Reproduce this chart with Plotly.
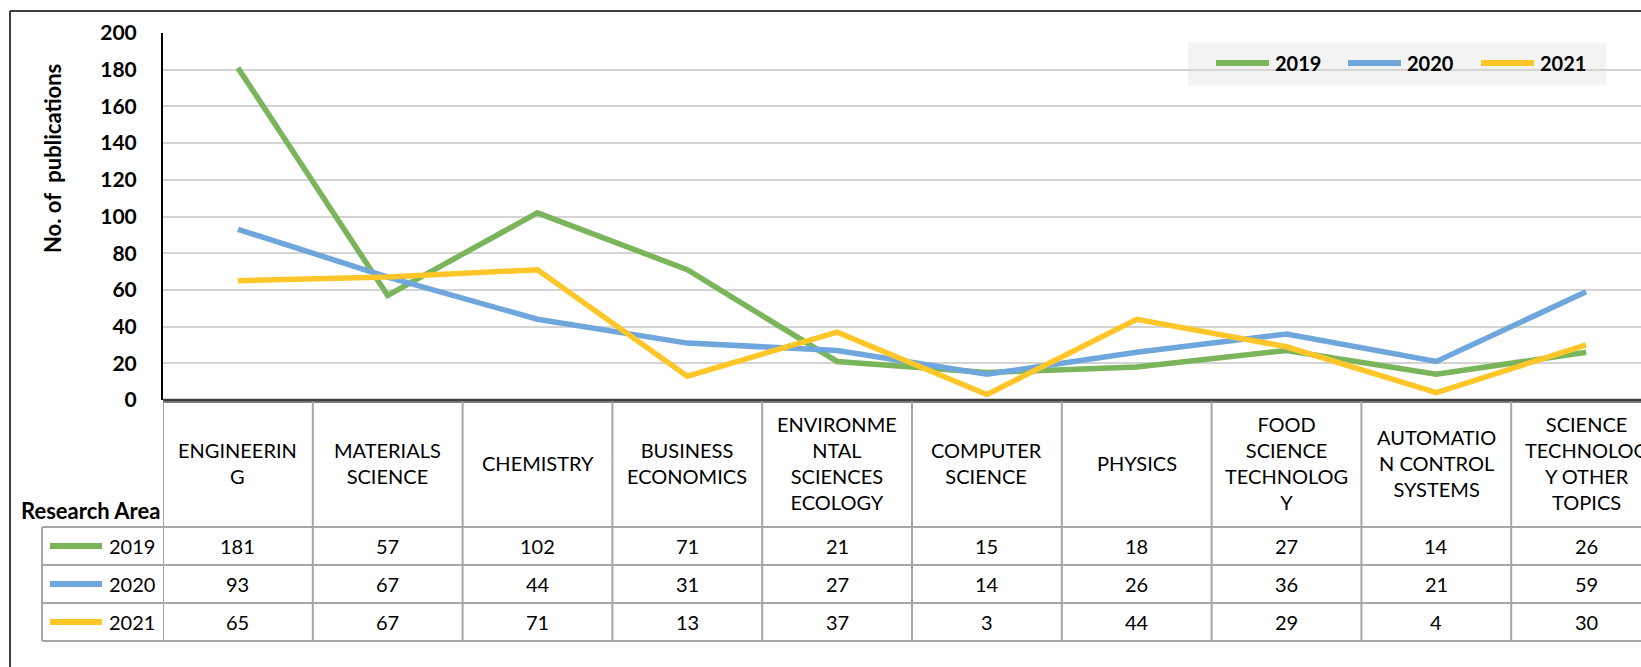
import plotly.graph_objects as go

# ---------------- data ----------------
categories = ["ENGINEERING", "MATERIALS SCIENCE", "CHEMISTRY", "BUSINESS ECONOMICS",
              "ENVIRONMENTAL SCIENCES ECOLOGY", "COMPUTER SCIENCE", "PHYSICS",
              "FOOD SCIENCE TECHNOLOGY", "AUTOMATION CONTROL SYSTEMS",
              "SCIENCE TECHNOLOGY OTHER TOPICS"]
header_labels = ["ENGINEERIN<br>G", "MATERIALS<br>SCIENCE", "CHEMISTRY", "BUSINESS<br>ECONOMICS",
                 "ENVIRONME<br>NTAL<br>SCIENCES<br>ECOLOGY", "COMPUTER<br>SCIENCE", "PHYSICS",
                 "FOOD<br>SCIENCE<br>TECHNOLOG<br>Y", "AUTOMATIO<br>N CONTROL<br>SYSTEMS",
                 "SCIENCE<br>TECHNOLOG<br>Y OTHER<br>TOPICS"]
series_names = ["2019", "2020", "2021"]
values_2019 = [181, 57, 102, 71, 21, 15, 18, 27, 14, 26]
values_2020 = [93, 67, 44, 31, 27, 14, 26, 36, 21, 59]
values_2021 = [65, 67, 71, 13, 37, 3, 44, 29, 4, 30]
y_ticks = [0, 20, 40, 60, 80, 100, 120, 140, 160, 180, 200]

colors = ["#7ab55b", "#6fa7dc", "#ffc629"]
series_values = [values_2019, values_2020, values_2021]

# ---------------- geometry (pixels) ----------------
W, H = 1641, 667
L, R, T, B = 163, 1641, 33, 400
PW, PH = R - L, B - T
SLOT = 149.8
x_hi = -0.5 + PW / SLOT


def px(x):
    return (x - L) / PW


def py(y):
    return (B - y) / PH


FONT = "Lato"
fig = go.Figure()
for name, vals, c in zip(series_names, series_values, colors):
    fig.add_trace(go.Scatter(x=list(range(len(categories))), y=vals, mode="lines", name=name,
                             line=dict(color=c, width=5.5), showlegend=False,
                             text=categories, hovertemplate="%{text}: %{y}<extra>" + name + "</extra>"))

shapes = []
annotations = []

# outer frame
shapes.append(dict(type="line", xref="paper", yref="paper", x0=px(10), x1=px(W + 5), y0=py(11), y1=py(11),
                   line=dict(color="black", width=1.5)))
shapes.append(dict(type="line", xref="paper", yref="paper", x0=px(10), x1=px(10), y0=py(11), y1=py(H + 5),
                   line=dict(color="black", width=1.5)))

# table rows
row_edges = [401, 527, 565, 603, 641]
grid_col = "#a6a6a6"
shapes.append(dict(type="line", xref="paper", yref="paper", x0=px(L), x1=px(W + 5), y0=py(402), y1=py(402),
                   line=dict(color="#7f7f7f", width=2)))
for yy in row_edges[1:]:
    shapes.append(dict(type="line", xref="paper", yref="paper", x0=px(42), x1=px(W + 5), y0=py(yy), y1=py(yy),
                       line=dict(color=grid_col, width=2)))
shapes.append(dict(type="line", xref="paper", yref="paper", x0=px(42), x1=px(42), y0=py(527), y1=py(641),
                   line=dict(color=grid_col, width=2)))
for i in range(len(categories) + 1):
    shapes.append(dict(type="line", xref="x", yref="paper", x0=i - 0.5, x1=i - 0.5, y0=py(401), y1=py(641),
                       line=dict(color=grid_col, width=2)))

# header labels
for i, lab in enumerate(header_labels):
    annotations.append(dict(x=i, xref="x", y=py(463), yref="paper", text=lab, showarrow=False,
                            font=dict(family=FONT, size=20, color="black"), align="center",
                            xanchor="center", yanchor="middle"))
# values
row_centers = [546, 584, 622]
for r, (name, vals, c) in enumerate(zip(series_names, series_values, colors)):
    yc = row_centers[r]
    for i, v in enumerate(vals):
        annotations.append(dict(x=i, xref="x", y=py(yc), yref="paper", text=str(v), showarrow=False,
                                font=dict(family=FONT, size=20, color="black"),
                                xanchor="center", yanchor="middle"))
    annotations.append(dict(x=px(157), xref="paper", y=py(yc), yref="paper", text=name, showarrow=False,
                            font=dict(family=FONT, size=20, color="black"),
                            xanchor="right", yanchor="middle"))
    shapes.append(dict(type="line", xref="paper", yref="paper", x0=px(50), x1=px(102), y0=py(yc), y1=py(yc),
                       line=dict(color=c, width=6)))

annotations.append(dict(x=px(162), xref="paper", y=py(510), yref="paper", text="<b>Research Area</b>",
                        showarrow=False, font=dict(family=FONT, size=22, color="black"),
                        xanchor="right", yanchor="middle"))

# y axis title
annotations.append(dict(x=px(52), xref="paper", y=py(159), yref="paper", text="<b>No. of  publications</b>",
                        showarrow=False, textangle=-90, font=dict(family=FONT, size=22, color="black"),
                        xanchor="center", yanchor="middle"))

# legend (drawn)
shapes.append(dict(type="rect", xref="paper", yref="paper", x0=px(1188), x1=px(1606), y0=py(43), y1=py(85),
                   fillcolor="#f3f3f3", line=dict(width=0), layer="below"))
leg_x = [1214, 1346, 1479]
for name, c, lx in zip(series_names, colors, leg_x):
    shapes.append(dict(type="line", xref="paper", yref="paper", x0=px(lx + 2), x1=px(lx + 55),
                       y0=py(63), y1=py(63), line=dict(color=c, width=6)))
    annotations.append(dict(x=px(lx + 59), xref="paper", y=py(63), yref="paper", text="<b>" + name + "</b>",
                            showarrow=False, font=dict(family=FONT, size=20, color="black"),
                            xanchor="left", yanchor="middle"))

fig.update_layout(
    width=W, height=H,
    margin=dict(l=L, r=W - R, t=T, b=H - B, pad=0),
    paper_bgcolor="white", plot_bgcolor="white",
    shapes=shapes, annotations=annotations,
    showlegend=False,
    xaxis=dict(range=[-0.5, x_hi], showticklabels=False, showgrid=False, zeroline=False,
               showline=False, ticks="", fixedrange=True),
    yaxis=dict(range=[0, 200], tickvals=y_ticks, showgrid=True, gridcolor="#d4d4d4", gridwidth=1.5,
               zeroline=False, showline=True, linecolor="black", linewidth=2,
               ticks="", ticklabelstandoff=20,
               tickfont=dict(family=FONT, size=21, color="black", weight="bold"), fixedrange=True),
)
fig.add_shape(type="line", xref="paper", yref="paper", x0=0, x1=1.01, y0=0, y1=0,
              line=dict(color="#404040", width=2.5))

fig.write_html("out.html", config={"displayModeBar": False},
               post_script="document.body.style.margin='0';document.body.style.overflow='hidden';")
